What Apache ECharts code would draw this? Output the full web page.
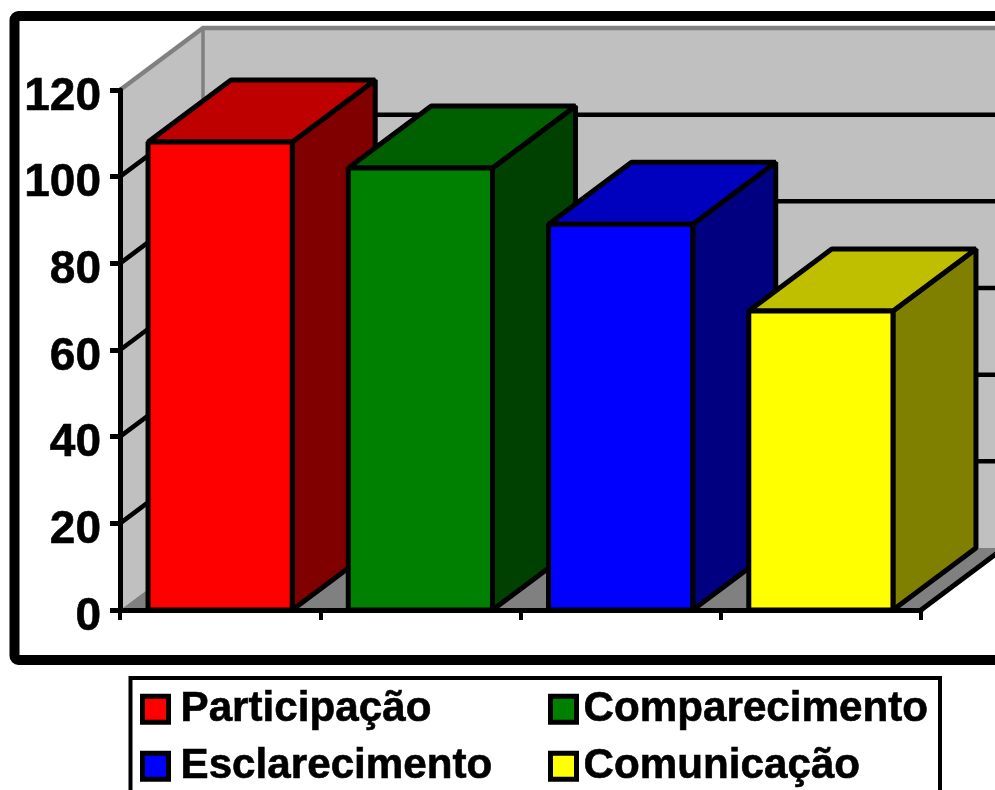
<!DOCTYPE html>
<html>
<head>
<meta charset="utf-8">
<style>html,body{margin:0;padding:0;background:#fff;overflow:hidden}#chart{width:995px;height:790px}</style>
<script src="https://cdn.jsdelivr.net/npm/echarts@6/dist/echarts.min.js"></script>
</head>
<body>
<div id="chart"></div>
<script>
// Survey scores per category
const categories = ['Participação', 'Comparecimento', 'Esclarecimento', 'Comunicação'];
const scores = [108, 102, 89, 69];
const yTicks = [0, 20, 40, 60, 80, 100, 120];

// Face shades for each bar
const frontColors = ['#FF0000', '#008000', '#0000FF', '#FFFF00'];
const topColors = ['#BF0000', '#006000', '#0000BF', '#BFBF00'];
const sideColors = ['#800000', '#004000', '#000080', '#808000'];

// Oblique projection of the third dimension, in pixels
const depthX = 83;
const depthY = 62;
const barRatio = 0.72;
const FONT = '"Liberation Sans", Arial, sans-serif';

// Floor, two walls and the gridlines running across them
function renderWalls(params, api) {
  const cs = params.coordSys;
  const left = cs.x, right = cs.x + cs.width;
  const yAt = v => api.coord([0, v])[1];
  const y0 = yAt(0), yMax = yAt(yTicks[yTicks.length - 1]);
  const children = [
    { type: 'polygon', shape: { points: [[left, y0], [left + depthX, y0 - depthY], [right + depthX, y0 - depthY], [right + depthX, yMax - depthY], [left + depthX, yMax - depthY], [left, yMax]] },
      style: { fill: '#C0C0C0', stroke: 'none' } },
    { type: 'polygon', shape: { points: [[left, y0], [right, y0], [right + depthX, y0 - depthY], [left + depthX, y0 - depthY]] },
      style: { fill: '#808080', stroke: 'none' } },
    { type: 'polyline', shape: { points: [[left, yMax], [left + depthX, yMax - depthY], [right + depthX, yMax - depthY]] },
      style: { fill: 'none', stroke: '#808080', lineWidth: 4.5 } },
    { type: 'line', shape: { x1: left + depthX, y1: yMax - depthY, x2: left + depthX, y2: y0 - depthY },
      style: { stroke: '#808080', lineWidth: 3.5 } },
    { type: 'line', shape: { x1: right, y1: y0, x2: right + depthX, y2: y0 - depthY },
      style: { stroke: '#000', lineWidth: 5 } }
  ];
  yTicks.slice(1, -1).forEach(v => {
    const y = yAt(v);
    children.push({ type: 'polyline', shape: { points: [[left, y], [left + depthX, y - depthY], [right + depthX, y - depthY]] },
      style: { fill: 'none', stroke: '#000', lineWidth: 4.5 } });
  });
  return { type: 'group', children };
}

// One oblique box: front, top and right faces
function renderBar(index) {
  return function (params, api) {
    const p = api.coord([api.value(0), api.value(1)]);
    const base = api.coord([api.value(0), 0]);
    const w = api.size([1, 0])[0] * barRatio;
    const x0 = p[0] - w / 2, x1 = p[0] + w / 2, yT = p[1], yB = base[1];
    const line = { stroke: '#000', lineWidth: 5, lineJoin: 'bevel' };
    return {
      type: 'group',
      children: [
        { type: 'polygon', shape: { points: [[x1, yT], [x1 + depthX, yT - depthY], [x1 + depthX, yB - depthY], [x1, yB]] },
          style: { fill: sideColors[index], ...line } },
        { type: 'polygon', shape: { points: [[x0, yT], [x0 + depthX, yT - depthY], [x1 + depthX, yT - depthY], [x1, yT]] },
          style: { fill: topColors[index], ...line } },
        { type: 'polygon', shape: { points: [[x0, yT], [x1, yT], [x1, yB], [x0, yB]] },
          style: { fill: frontColors[index], ...line } }
      ]
    };
  };
}

// Each legend entry is placed on its own so the two columns line up
function legendEntry(name, left, top, textGap) {
  return {
    left, top,
    data: [name],
    icon: 'rect',
    itemWidth: 26,
    itemHeight: 26,
    padding: 0,
    selectedMode: false,
    itemStyle: { borderColor: '#000', borderWidth: 5 },
    textStyle: { fontFamily: FONT, fontWeight: 'bold', fontSize: 42.2, color: '#000', textBorderColor: '#000', textBorderWidth: 0.6, padding: [0, 0, 0, textGap], lineHeight: 26 }
  };
}

const chart = echarts.init(document.getElementById('chart'), null, { renderer: 'canvas' });
chart.setOption({
  animation: false,
  backgroundColor: '#fff',
  grid: { left: 120, top: 90, width: 801, height: 520, containLabel: false },
  xAxis: {
    type: 'category',
    data: categories,
    z: 5,
    axisLine: { lineStyle: { color: '#000', width: 5 } },
    axisTick: { show: true, alignWithLabel: false, length: 10, lineStyle: { color: '#000', width: 4 } },
    axisLabel: { show: false },
    splitLine: { show: false }
  },
  yAxis: {
    type: 'value',
    min: 0,
    max: 120,
    interval: 20,
    z: 5,
    axisLine: { show: true, lineStyle: { color: '#000', width: 5 } },
    axisTick: { show: true, length: 10, lineStyle: { color: '#000', width: 5 } },
    axisLabel: { fontFamily: FONT, fontWeight: 'bold', fontSize: 46, color: '#000', textBorderColor: '#000', textBorderWidth: 0.6, margin: 19, verticalAlign: 'top', lineHeight: 14 },
    splitLine: { show: false }
  },
  legend: [
    legendEntry(categories[0], 140, 688, 7),
    legendEntry(categories[2], 140, 745, 7),
    legendEntry(categories[1], 548, 688, 2),
    legendEntry(categories[3], 548, 745, 2)
  ],
  graphic: [
    { type: 'rect', shape: { x: 14.5, y: 16, width: 1100, height: 644, r: 4 },
      style: { fill: 'none', stroke: '#000', lineWidth: 10 }, silent: true },
    { type: 'rect', shape: { x: 130.5, y: 678, width: 809.5, height: 130 },
      style: { fill: 'none', stroke: '#000', lineWidth: 4 }, silent: true }
  ],
  series: [
    { type: 'custom', name: 'walls', silent: true, renderItem: renderWalls, data: [[0, 0]], z: 1, clip: false, encode: { x: 0, y: 1 } }
  ].concat(categories.map((name, i) => ({
    type: 'custom',
    name,
    z: 2,
    itemStyle: { color: frontColors[i] },
    renderItem: renderBar(i),
    encode: { x: 0, y: 1 },
    data: [[i, scores[i]]]
  })))
});
</script>
</body>
</html>
